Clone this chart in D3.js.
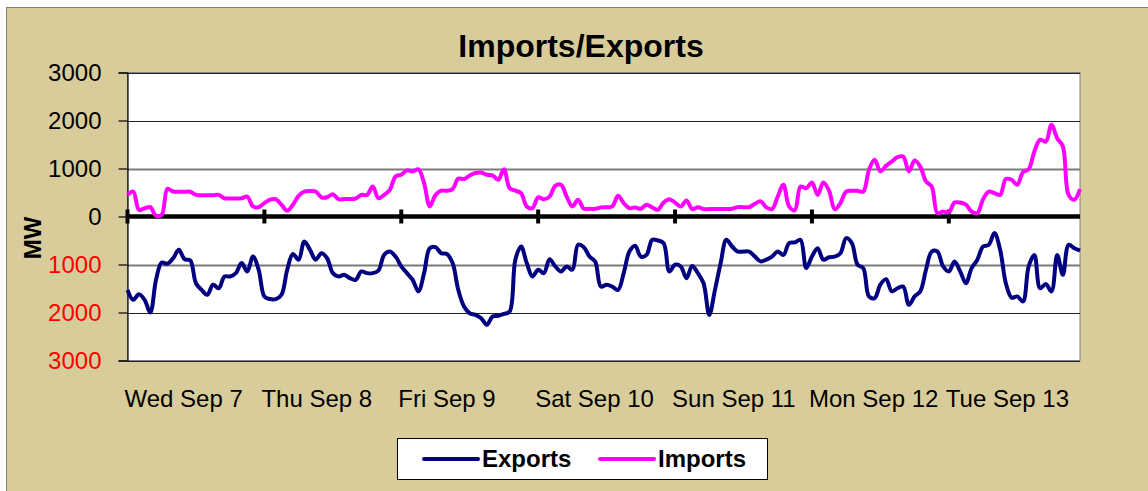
<!DOCTYPE html>
<html>
<head>
<meta charset="utf-8">
<script src="https://cdn.jsdelivr.net/npm/d3@7"></script>
<style>
  html, body { margin: 0; padding: 0; background: #ffffff; }
  svg { display: block; font-family: "Liberation Sans", Arial, sans-serif; }
</style>
</head>
<body>
<svg id="chart" width="1148" height="491"></svg>
<script>
// ---- data ----
const dayLabels = ["Wed Sep 7", "Thu Sep 8", "Fri Sep 9", "Sat Sep 10", "Sun Sep 11", "Mon Sep 12", "Tue Sep 13"];
const yTickValues = [3000, 2000, 1000, 0, -1000, -2000, -3000];
const seriesNames = ["Exports", "Imports"];

// hourly MW, 168 points (7 days)
const imports = [
  450, 520, 140, 170, 195, 15, 35, 575, 520, 515, 515, 515, 450, 445, 445, 445, 450, 380, 375, 375, 380, 415, 210, 195,
  280, 350, 360, 245, 120, 245, 430, 520, 530, 520, 400, 400, 465, 360, 365, 365, 375, 450, 450, 625, 380, 450, 555, 835,
  870, 960, 940, 985, 695, 210, 450, 540, 535, 570, 790, 780, 855, 905, 915, 870, 855, 765, 985, 590, 540, 485, 210, 175,
  400, 360, 415, 640, 660, 415, 210, 350, 165, 160, 160, 190, 195, 210, 430, 280, 175, 190, 160, 245, 190, 140, 290, 360,
  290, 210, 335, 155, 195, 155, 155, 155, 155, 155, 160, 195, 195, 195, 265, 315, 190, 155, 415, 660, 210, 130, 625, 590,
  710, 450, 710, 540, 150, 280, 520, 535, 535, 520, 970, 1180, 940, 1055, 1145, 1235, 1250, 940, 1165, 1040, 730, 625, 70, 105,
  85, 290, 290, 245, 105, 70, 360, 520, 485, 450, 780, 765, 660, 925, 985, 1355, 1600, 1560, 1910, 1630, 1460, 450, 350, 570
];
const exports = [
  -1530, -1735, -1620, -1735, -2000, -1320, -960, -985, -870, -695, -890, -915, -1390, -1530, -1630, -1420, -1495, -1250, -1250, -1180, -970, -1145, -835, -1110,
  -1665, -1720, -1720, -1630, -1110, -780, -900, -520, -695, -900, -765, -870, -1180, -1250, -1215, -1285, -1320, -1145, -1180, -1180, -1125, -800, -730, -835,
  -1040, -1180, -1320, -1560, -1180, -660, -640, -765, -780, -970, -1530, -1875, -2015, -2050, -2120, -2255, -2085, -2070, -2030, -1980, -900, -625, -970, -1250,
  -1110, -1180, -890, -1040, -1145, -1040, -1110, -590, -640, -835, -940, -1460, -1420, -1460, -1530, -1180, -730, -610, -835, -800, -485, -500, -555, -1145,
  -1005, -1040, -1285, -1030, -1180, -1390, -2050, -1530, -970, -485, -625, -730, -730, -730, -835, -935, -900, -835, -730, -800, -555, -540, -485, -1075,
  -835, -660, -900, -850, -835, -765, -450, -555, -1005, -1075, -1665, -1700, -1420, -1305, -1560, -1495, -1460, -1840, -1665, -1560, -1110, -730, -730, -1040,
  -1145, -935, -1145, -1390, -1075, -900, -625, -590, -345, -695, -1390, -1690, -1665, -1770, -1040, -800, -1495, -1405, -1560, -800, -1215, -590, -660, -710
];

// ---- layout ----
const svg = d3.select("#chart");
const W = 1148, H = 491;
const plot = { left: 127.5, right: 1080, top: 72.5, bottom: 360.5 };
const tan = "#D8CD9A";

svg.append("rect").attr("x", 6.5).attr("y", 7.5).attr("width", W + 10).attr("height", H + 10)
  .attr("fill", tan).attr("stroke", "#7f7f7f").attr("stroke-width", 1);

const x = d3.scaleLinear().domain([0, imports.length - 1]).range([plot.left, plot.right]);
const y = d3.scaleLinear().domain([-3000, 3000]).range([plot.bottom, plot.top]);

// plot area
svg.append("rect").attr("x", plot.left).attr("y", plot.top)
  .attr("width", plot.right - plot.left).attr("height", plot.bottom - plot.top)
  .attr("fill", "#ffffff").attr("stroke", "#808080").attr("stroke-width", 1);

// gridlines
svg.append("g").selectAll("line").data(yTickValues.filter(v => v !== 0)).join("line")
  .attr("x1", plot.left).attr("x2", plot.right)
  .attr("y1", d => Math.round(y(d)) + 0.5).attr("y2", d => Math.round(y(d)) + 0.5)
  .attr("stroke", d => Math.abs(d) === 1000 ? "#7a7a7a" : "#222222")
  .attr("stroke-width", d => Math.abs(d) === 1000 ? 2 : 1);

// y axis
const yAxis = d3.axisLeft(y).tickValues(yTickValues).tickSize(9).tickPadding(17)
  .tickFormat(d => String(Math.abs(d)));
const gy = svg.append("g").attr("transform", `translate(${plot.left},0)`).call(yAxis);
gy.select(".domain").attr("stroke", "#000").attr("stroke-width", 1.2);
gy.selectAll(".tick line").attr("stroke", "#000").attr("stroke-width", 1.2);
gy.selectAll(".tick text")
  .attr("font-size", 24).attr("font-family", "'Liberation Sans', Arial, sans-serif")
  .attr("fill", d => d < 0 ? "#FF0000" : "#000000");

// zero line with day ticks
svg.append("line").attr("x1", plot.left).attr("x2", plot.right)
  .attr("y1", y(0)).attr("y2", y(0)).attr("stroke", "#000").attr("stroke-width", 4.5);
const dayIdx = dayLabels.map((d, i) => i * 24);
svg.append("g").selectAll("line").data(dayIdx).join("line")
  .attr("x1", d => x(d)).attr("x2", d => x(d))
  .attr("y1", y(0) - 7).attr("y2", y(0) + 7)
  .attr("stroke", "#000").attr("stroke-width", 4);

// x labels
svg.append("g").selectAll("text").data(dayLabels).join("text")
  .attr("x", (d, i) => x(i * 24) - 3).attr("y", 407)
  .attr("font-size", 24).attr("fill", "#000")
  .text(d => d);

// series
const line = d3.line().x((d, i) => x(i)).y(d => y(d)).curve(d3.curveCatmullRom.alpha(0.5));
svg.append("path").datum(imports).attr("d", line)
  .attr("fill", "none").attr("stroke", "#FF00FF").attr("stroke-width", 4).attr("stroke-linejoin", "round");
svg.append("path").datum(exports).attr("d", line)
  .attr("fill", "none").attr("stroke", "#000080").attr("stroke-width", 4).attr("stroke-linejoin", "round");

// title
svg.append("text").attr("x", 581).attr("y", 57).attr("text-anchor", "middle")
  .attr("font-size", 32).attr("font-weight", "bold").text("Imports/Exports");

// y label
svg.append("text").attr("transform", "translate(41,238) rotate(-90)")
  .attr("text-anchor", "middle").attr("font-size", 24).attr("font-weight", "bold").text("MW");

// legend
const lg = svg.append("g");
lg.append("rect").attr("x", 397.5).attr("y", 438.5).attr("width", 370).attr("height", 41)
  .attr("fill", "#fff").attr("stroke", "#000").attr("stroke-width", 1);
const legendItems = [
  { name: seriesNames[0], color: "#000080", x0: 424 },
  { name: seriesNames[1], color: "#FF00FF", x0: 600 }
];
legendItems.forEach(it => {
  lg.append("line").attr("x1", it.x0).attr("x2", it.x0 + 54).attr("y1", 459).attr("y2", 459)
    .attr("stroke", it.color).attr("stroke-width", 4).attr("stroke-linecap", "round");
  lg.append("text").attr("x", it.x0 + 58).attr("y", 467).attr("font-size", 24)
    .attr("font-weight", "bold").text(it.name);
});
</script>
</body>
</html>
